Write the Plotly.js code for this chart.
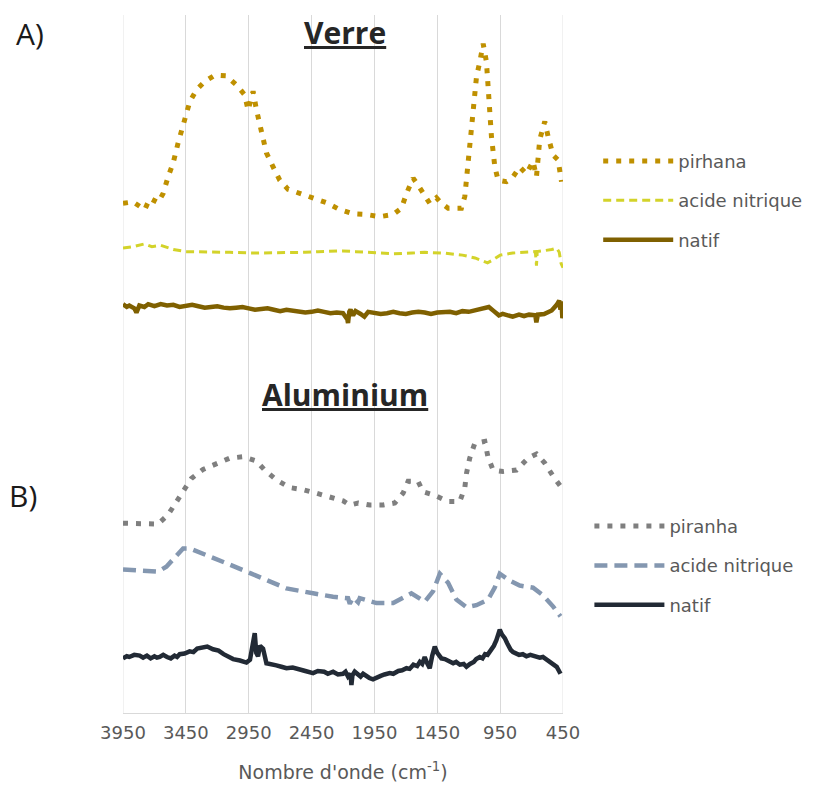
<!DOCTYPE html>
<html>
<head>
<meta charset="utf-8">
<script src="https://cdn.plot.ly/plotly-3.0.1.min.js"></script>
<style>html,body{margin:0;padding:0;background:#fff;}#chart{width:820px;height:789px;}</style>
</head>
<body>
<div id="chart"></div>
<script>
// Tick labels (wavenumber, cm-1)
const xTicks = [3950, 3450, 2950, 2450, 1950, 1450, 950, 450];

// ---- A) Verre ----
const verrePirhanaX = [3950,3870,3777,3737,3671,3631,3591,3552,3512,3485,3451,3419,3366,3300,3220,3127,3048,2982,2955,2915,2889,2862,2836,2809,2756,2703,2637,2544,2438,2332,2226,2120,2014,1907,1801,1735,1695,1642,1603,1550,1510,1457,1417,1364,1258,1231,1218,1205,1191,1165,1138,1112,1085,1059,1046,1032,1019,992,966,900,847,794,741,688,661,635,595,568,529,489,462];
const verrePirhanaY = [72.8,73.0,71.9,73.5,72.9,74.2,76.6,78.5,81.4,83.3,85.2,87.3,89.0,90.2,91.1,91.0,89.7,88.3,86.1,88.8,86.2,84.0,82.3,80.0,78.0,76.1,74.8,74.2,73.5,72.9,71.9,71.3,71.2,70.9,71.2,72.1,74.2,76.4,75.4,73.8,72.8,73.6,72.8,72.1,72.1,73.8,76.1,80.0,82.3,86.4,90.9,93.0,95.6,93.0,88.8,86.6,82.3,78.0,76.1,75.9,76.6,78.0,77.0,78.8,76.6,81.9,84.5,82.3,79.7,79.0,75.9];

const verreNitriqueX = [3950,3870,3780,3720,3650,3550,3450,3300,3100,2900,2700,2500,2400,2300,2200,2100,2000,1900,1800,1650,1550,1400,1250,1150,1050,1020,950,850,750,670,661,655,540,500,480,465,450];
const verreNitriqueY = [66.4,66.6,67.0,66.6,66.8,66.2,65.9,65.9,65.8,65.7,65.7,65.8,65.9,66.0,66.0,65.9,65.8,65.6,65.6,65.7,65.8,65.7,65.4,65.0,64.3,64.6,65.4,65.7,65.8,65.9,63.9,65.9,66.2,66.4,65.8,64.2,63.6];

const verreNatifX = [3950,3920,3900,3860,3843,3820,3780,3750,3700,3650,3600,3550,3500,3450,3400,3350,3300,3250,3200,3150,3100,3050,3000,2950,2900,2850,2800,2750,2700,2650,2600,2550,2500,2450,2400,2350,2300,2250,2200,2165,2160,2150,2140,2120,2100,2060,2030,2000,1950,1900,1850,1800,1750,1700,1650,1600,1550,1500,1450,1400,1350,1300,1250,1200,1150,1100,1040,1000,960,930,900,850,800,760,720,670,662,650,600,540,500,480,470,462,455,450];
const verreNatifY = [58.4,58.0,58.2,57.8,57.2,58.2,58.0,58.4,58.1,58.4,58.2,58.3,58.0,58.2,58.3,58.1,57.9,58.0,58.1,57.9,57.8,57.9,58.0,57.8,57.6,57.7,57.8,57.6,57.4,57.6,57.5,57.4,57.2,57.3,57.5,57.3,57.1,57.2,57.1,56.2,55.7,57.3,57.6,56.8,57.4,57.0,56.6,57.3,57.2,57.0,57.1,57.3,57.1,57.0,57.2,57.3,57.2,57.0,57.2,57.3,57.3,57.1,57.4,57.3,57.5,57.6,58.0,57.4,56.8,57.0,56.8,56.6,56.9,56.7,56.9,56.8,55.8,56.9,57.0,57.5,58.3,58.9,57.6,58.8,56.4,56.8];

// ---- B) Aluminium ----
const aluPiranhaX = [3950,3870,3777,3671,3592,3531,3478,3406,3313,3207,3101,2995,2889,2823,2730,2624,2518,2412,2305,2199,2146,2080,1987,1881,1788,1722,1682,1603,1563,1470,1364,1271,1231,1218,1192,1152,1072,1046,1006,927,820,728,661,595,528,470];
const aluPiranhaY = [27.1,27.1,27.1,27.0,28.3,30.0,31.6,33.5,34.8,35.6,36.4,36.6,36.0,34.7,33.3,32.2,31.9,31.4,30.9,30.3,29.7,30.0,29.7,29.7,30.0,31.4,33.1,33.1,31.6,31.1,30.2,30.2,32.2,34.2,36.4,38.5,38.8,36.5,34.7,34.5,34.7,36.4,37.0,35.7,33.8,32.4];

const aluNitriqueX = [3950,3671,3605,3539,3472,3419,3287,3128,2929,2809,2650,2438,2279,2160,2146,2120,2080,2067,1934,1801,1656,1550,1483,1430,1364,1298,1218,1139,1046,993,953,873,794,688,608,528,470];
const aluNitriqueY = [20.5,20.2,20.9,22.3,23.5,23.5,22.6,21.4,19.9,19.0,17.8,17.1,16.6,16.4,15.6,16.5,15.8,16.4,15.7,15.7,17.1,15.9,17.4,19.9,18.6,16.2,15.1,15.4,16.2,17.9,19.9,18.9,18.2,17.9,16.8,15.2,13.8];

const aluNatifX = [3950,3920,3900,3860,3817,3790,3760,3730,3700,3680,3658,3630,3600,3570,3540,3520,3499,3460,3420,3390,3360,3313,3280,3234,3190,3150,3110,3074,3020,2968,2940,2929,2915,2902,2890,2876,2860,2836,2809,2770,2730,2690,2650,2600,2540,2500,2438,2400,2350,2320,2279,2240,2200,2180,2160,2140,2133,2125,2107,2080,2060,2040,2014,1990,1961,1930,1900,1870,1828,1800,1760,1730,1695,1670,1640,1610,1589,1570,1550,1530,1510,1490,1470,1450,1430,1417,1390,1370,1350,1324,1300,1270,1240,1218,1190,1160,1140,1112,1090,1070,1050,1033,1015,1000,980,965,953,935,913,895,880,865,847,820,800,770,741,710,690,660,635,610,580,555,528,500,470];
const aluNatifY = [7.8,8.1,8.0,8.3,8.2,7.9,8.2,7.8,8.1,7.9,8.0,8.3,8.0,7.8,8.2,8.0,8.4,8.5,8.8,8.7,9.2,9.3,9.5,9.1,8.9,8.4,8.1,7.7,7.5,7.2,7.6,9.0,10.2,11.4,8.6,8.1,9.6,9.2,7.1,7.0,6.8,6.6,6.4,6.5,6.1,6.0,5.7,6.0,5.9,5.6,5.9,5.5,5.6,5.9,5.2,5.6,4.0,5.4,5.9,5.4,5.2,5.6,5.2,5.0,4.8,5.1,5.3,5.5,5.7,5.6,6.0,6.1,6.4,6.3,6.9,6.7,7.3,7.0,8.0,7.1,6.4,8.2,9.5,8.6,8.1,7.8,7.7,7.5,7.3,7.1,7.3,6.9,7.0,6.6,7.0,7.3,7.7,8.0,7.8,8.4,8.3,8.7,9.0,9.6,10.4,11.3,11.9,11.2,10.7,10.0,9.4,9.0,8.7,8.5,8.3,8.4,8.1,8.3,8.2,8.0,7.9,8.0,7.6,7.4,7.1,6.6,5.6];

const font = '"DejaVu Sans", "Open Sans", sans-serif';
const titleFont = '"Open Sans", "DejaVu Sans", sans-serif';

function tr(x, y, name, color, width, dash, legend) {
  return {
    x: x, y: y, name: name, type: 'scatter', mode: 'lines',
    line: {color: color, width: width, dash: dash},
    legend: legend, legendgroup: legend + name, hoverinfo: 'skip'
  };
}

const data = [
  tr(verrePirhanaX, verrePirhanaY, 'pirhana', '#bf9000', 5, '5px,8px', 'legend'),
  tr(verreNitriqueX, verreNitriqueY, 'acide nitrique', '#d3d32a', 3, '8px,5px', 'legend'),
  tr(verreNatifX, verreNatifY, 'natif', '#7f6000', 4.5, 'solid', 'legend'),
  tr(aluPiranhaX, aluPiranhaY, 'piranha', '#7f7f7f', 5, '5px,8px', 'legend2'),
  tr(aluNitriqueX, aluNitriqueY, 'acide nitrique', '#8497b0', 4.5, '13px,7px', 'legend2'),
  tr(aluNatifX, aluNatifY, 'natif', '#222a35', 4.5, 'solid', 'legend2')
];

const legendFont = {family: font, size: 18, color: '#595959'};

const edgeGrid = [xTicks[0], xTicks[xTicks.length - 1]].map(v => ({
  type: 'line', xref: 'x', yref: 'paper', x0: v, x1: v, y0: 0, y1: 1,
  line: {color: '#e3e3e3', width: 1}, layer: 'below'
}));

const layout = {
  width: 820, height: 789,
  margin: {l: 123, r: 257, t: 15, b: 76},
  paper_bgcolor: '#ffffff', plot_bgcolor: '#ffffff',
  showlegend: true,
  xaxis: {
    range: [3950, 450],
    tickvals: xTicks, ticktext: xTicks.map(String),
    showgrid: true, gridcolor: '#d9d9d9', gridwidth: 1,
    showline: true, linecolor: '#d9d9d9', linewidth: 1,
    zeroline: false,
    ticks: 'outside', ticklen: 3, tickcolor: 'rgba(0,0,0,0)',
    tickfont: {family: font, size: 18, color: '#595959'},
    title: {text: "Nombre d'onde (cm<sup>-1</sup>)", font: {family: font, size: 19, color: '#595959'}, standoff: 24}
  },
  yaxis: {
    range: [0, 99.7],
    showgrid: false, showticklabels: false, zeroline: false, showline: false, ticks: ''
  },
  shapes: edgeGrid,
  legend: {
    x: 1.08, y: 0.817, xanchor: 'left', yanchor: 'top',
    font: legendFont, tracegroupgap: 13, itemwidth: 70, bgcolor: 'rgba(0,0,0,0)'
  },
  legend2: {
    x: 1.06, y: 0.294, xanchor: 'left', yanchor: 'top',
    font: legendFont, tracegroupgap: 13, itemwidth: 70, bgcolor: 'rgba(0,0,0,0)'
  },
  annotations: [
    {text: '<b><u>Verre</u></b>', xref: 'paper', yref: 'paper', x: 0.5045, y: 0.9756, xanchor: 'center', yanchor: 'middle', showarrow: false, font: {family: titleFont, size: 30, color: '#262626'}},
    {text: '<b><u>Aluminium</u></b>', xref: 'paper', yref: 'paper', x: 0.5045, y: 0.4556, xanchor: 'center', yanchor: 'middle', showarrow: false, font: {family: titleFont, size: 30, color: '#262626'}},
    {text: 'A)', xref: 'paper', yref: 'paper', x: -0.211, y: 0.9728, xanchor: 'center', yanchor: 'middle', showarrow: false, font: {family: titleFont, size: 30, color: '#1a1a1a'}},
    {text: 'B)', xref: 'paper', yref: 'paper', x: -0.227, y: 0.3123, xanchor: 'center', yanchor: 'middle', showarrow: false, font: {family: titleFont, size: 30, color: '#1a1a1a'}}
  ]
};

Plotly.newPlot('chart', data, layout, {displayModeBar: false, staticPlot: true});
</script>
</body>
</html>
